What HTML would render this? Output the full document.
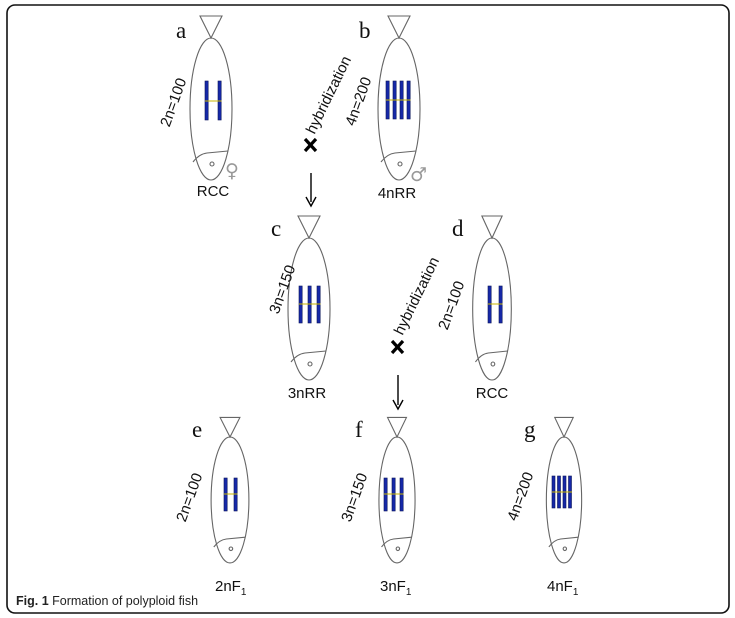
<!DOCTYPE html>
<html><head><meta charset="utf-8"><style>
html,body{margin:0;padding:0;background:#fff;width:735px;height:618px;overflow:hidden}
svg{display:block}
.lab{font-family:"Liberation Sans",sans-serif;font-size:15px;fill:#111}
.num{font-family:"Liberation Sans",sans-serif;font-size:15px;fill:#111}
.let{font-family:"Liberation Serif",serif;font-size:23px;fill:#111}
.fs path,.fs ellipse,.fs circle{fill:none;stroke:#666;stroke-width:1.1;vector-effect:non-scaling-stroke}
.ch{fill:#1628a8;stroke:#0a145a;stroke-width:0.6}
</style></head><body>
<svg width="735" height="618" viewBox="0 0 735 618" xmlns="http://www.w3.org/2000/svg">
<defs>
<g id="fish" class="fs">
  <path d="M-11,-22 L11,-22 L0,0 Z"/>
  <ellipse cx="0" cy="71" rx="21" ry="71"/>
  <path d="M-18,124 Q-12,116 -4,115 L17,113"/>
  <circle cx="1" cy="126" r="2"/>
</g>
</defs>
<rect x="7" y="5" width="722" height="608" rx="8" ry="8" fill="none" stroke="#111" stroke-width="1.6"/>

<use href="#fish" transform="translate(211,38)"/>
<use href="#fish" transform="translate(399,38)"/>
<use href="#fish" transform="translate(309,238)"/>
<use href="#fish" transform="translate(492,238) scale(0.92,1)"/>
<use href="#fish" transform="translate(230,437) scale(0.9,0.887)"/>
<use href="#fish" transform="translate(397,437) scale(0.86,0.887)"/>
<use href="#fish" transform="translate(564,437) scale(0.84,0.887)"/>

<g class="ch">
<rect x="205" y="81" width="3.2" height="39"/><rect x="218" y="81" width="3.2" height="39"/>
<rect x="386" y="81" width="3.2" height="38"/><rect x="393" y="81" width="3.2" height="38"/><rect x="400" y="81" width="3.2" height="38"/><rect x="407" y="81" width="3.2" height="38"/>
<rect x="299" y="286" width="3.2" height="37"/><rect x="308" y="286" width="3.2" height="37"/><rect x="317" y="286" width="3.2" height="37"/>
<rect x="488" y="286" width="3.2" height="37"/><rect x="499" y="286" width="3.2" height="37"/>
<rect x="224" y="478" width="3.2" height="33"/><rect x="234" y="478" width="3.2" height="33"/>
<rect x="384" y="478" width="3.2" height="33"/><rect x="392" y="478" width="3.2" height="33"/><rect x="400" y="478" width="3.2" height="33"/>
<rect x="552" y="476" width="3" height="32"/><rect x="557.5" y="476" width="3" height="32"/><rect x="563" y="476" width="3" height="32"/><rect x="568.5" y="476" width="3" height="32"/>
</g>
<g stroke="#c8b400" stroke-width="1">
<line x1="205" y1="101" x2="221.5" y2="101"/>
<line x1="386" y1="100" x2="410.5" y2="100"/>
<line x1="299" y1="304" x2="320.5" y2="304"/>
<line x1="488" y1="304" x2="502.5" y2="304"/>
<line x1="224" y1="494" x2="237.5" y2="494"/>
<line x1="384" y1="494" x2="403.5" y2="494"/>
<line x1="552" y1="492" x2="572" y2="492"/>
</g>

<text class="let" x="176" y="38">a</text>
<text class="let" x="359" y="38">b</text>
<text class="let" x="271" y="236">c</text>
<text class="let" x="452" y="236">d</text>
<text class="let" x="192" y="437">e</text>
<text class="let" x="355" y="437">f</text>
<text class="let" x="524" y="437">g</text>

<text class="num" text-anchor="middle" transform="translate(178,104) rotate(-70)">2n=100</text>
<text class="num" text-anchor="middle" transform="translate(363,103) rotate(-70)">4n=200</text>
<text class="num" text-anchor="middle" transform="translate(287,291) rotate(-70)">3n=150</text>
<text class="num" text-anchor="middle" transform="translate(456,307) rotate(-70)">2n=100</text>
<text class="num" text-anchor="middle" transform="translate(194,499) rotate(-70)">2n=100</text>
<text class="num" text-anchor="middle" transform="translate(359,499) rotate(-70)">3n=150</text>
<text class="num" text-anchor="middle" transform="translate(525,498) rotate(-70)">4n=200</text>

<text class="num" text-anchor="middle" transform="translate(333,97) rotate(-64)">hybridization</text>
<text class="num" text-anchor="middle" transform="translate(421,298) rotate(-64)">hybridization</text>
<g stroke="#000" stroke-width="3.2">
<line x1="305" y1="139" x2="316" y2="151"/><line x1="316" y1="139" x2="305" y2="151"/>
<line x1="392" y1="341" x2="403" y2="353"/><line x1="403" y1="341" x2="392" y2="353"/>
</g>
<g stroke="#000" stroke-width="1.4">
<line x1="311" y1="173" x2="311" y2="202"/>
<line x1="398" y1="375" x2="398" y2="405"/>
</g>
<path d="M306,197 L311,206 L316,197" fill="none" stroke="#000" stroke-width="1.4"/>
<path d="M393,400 L398,409 L403,400" fill="none" stroke="#000" stroke-width="1.4"/>

<text x="225" y="177" font-family="DejaVu Sans,sans-serif" font-size="19" fill="#999">♀</text>
<text x="410" y="181" font-family="DejaVu Sans,sans-serif" font-size="19" fill="#999">♂</text>

<text class="lab" text-anchor="middle" x="213" y="196">RCC</text>
<text class="lab" text-anchor="middle" x="397" y="198">4nRR</text>
<text class="lab" text-anchor="middle" x="307" y="398">3nRR</text>
<text class="lab" text-anchor="middle" x="492" y="398">RCC</text>
<text class="lab" x="215" y="591">2nF<tspan font-size="10" dy="4">1</tspan></text>
<text class="lab" x="380" y="591">3nF<tspan font-size="10" dy="4">1</tspan></text>
<text class="lab" x="547" y="591">4nF<tspan font-size="10" dy="4">1</tspan></text>

<text x="16" y="605" font-family="Liberation Sans,sans-serif" font-size="12.5" fill="#222"><tspan font-weight="bold">Fig. 1</tspan> Formation of polyploid fish</text>
</svg>
</body></html>
